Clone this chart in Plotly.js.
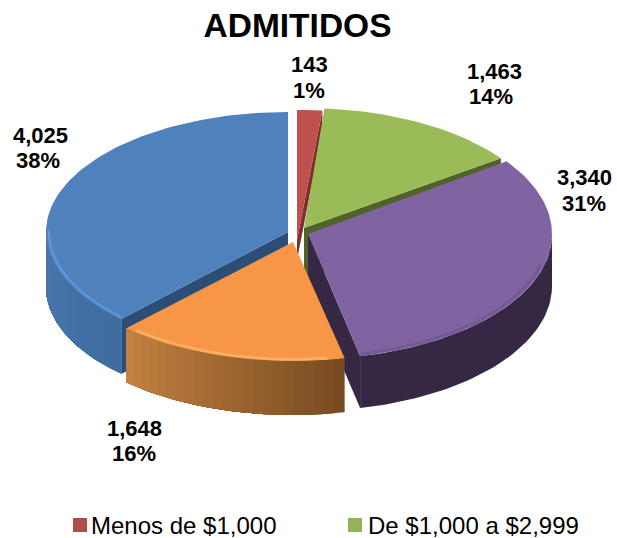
<!DOCTYPE html>
<html><head><meta charset="utf-8">
<script src="https://cdn.plot.ly/plotly-3.0.1.min.js"></script>
<style>html,body{margin:0;padding:0;background:#fff}#c{width:617px;height:538px}</style>
</head><body><div id="c"></div>
<script>
const titleText = "ADMITIDOS";
const values = [143, 1463, 3340, 1648, 4025];
const legendLabels = ["Menos de $1,000", "De $1,000 a $2,999"];

// drawing styles, one entry per slice
const geo = [
  {cx:297,cy:240,rx:300,ry:130,d:20,top:"#c0504d",wallA:"#8a3633",wallB:"#8a3633",radial:"#7d2f2d"},
  {cx:304,cy:228,rx:242,ry:120,d:52,top:"#9bbb59",wallA:"#4f6228",wallB:"#4f6228",radial:"#4f6228"},
  {cx:308,cy:234,rx:244,ry:125,d:52,top:"#8064a2",wallA:"#362845",wallB:"#362845",radial:"#362845",rim:"#65507f"},
  {cx:293,cy:242,rx:242,ry:119,d:54,top:"#f79646",wallA:"#774a20",wallB:"#c58240",radial:"#a5662c",rim:"#ffc27c"},
  {cx:288,cy:232,rx:242,ry:120,d:55,top:"#4f81bd",wallA:"#3f6c9f",wallB:"#4a78ad",radial:"#2c4d75",rim:"#5f9de6"}
];
const labelPos = [
  {x:309,y:64,py:90,px:309},{x:494,y:71,py:96,px:491},{x:584,y:177,py:203,px:584},
  {x:134,y:428,py:453,px:134},{x:40,y:135,py:160,px:38}
];
const legendPos = [{sx:80,tx:90,c:"#b24c4a"},{sx:355,tx:367,c:"#93b35a"}];

const total = values.reduce((a,b)=>a+b,0);
let acc = 0;
const spans = values.map(v=>{const a=acc/total*360; acc+=v; return [a,acc/total*360];});
const rad = d=>d*Math.PI/180;
const px = (g,t,k=1)=>g.cx+g.rx*k*Math.sin(rad(t));
const py = (g,t,k=1)=>g.cy-g.ry*k*Math.cos(rad(t));
const poly = (xs,ys,color)=>({type:"scatter",mode:"lines",x:xs,y:ys,fill:"toself",fillcolor:color,
  line:{color:color,width:0},hoverinfo:"skip",showlegend:false});
const mix = (a,b,f)=>{const h=s=>[1,3,5].map(i=>parseInt(s.substr(i,2),16));const A=h(a),B=h(b);
  return "rgb("+A.map((v,i)=>Math.round(v+(B[i]-v)*f)).join(",")+")";};

function radialWall(i,t){const g=geo[i];const x1=px(g,t),y1=py(g,t);
  return poly([g.cx,x1,x1,g.cx,g.cx],[g.cy,y1,y1+g.d,g.cy+g.d,g.cy],g.radial);}
function wallBand(g,t0,t1,color){const xs=[],ys=[],n=Math.max(2,Math.ceil((t1-t0)/1.5));
  for(let k=0;k<=n;k++){const t=t0+(t1-t0)*k/n;xs.push(px(g,t));ys.push(py(g,t));}
  for(let k=n;k>=0;k--){const t=t0+(t1-t0)*k/n;xs.push(px(g,t));ys.push(py(g,t)+g.d);}
  xs.push(xs[0]);ys.push(ys[0]);return poly(xs,ys,color);}
function outerWall(i){const g=geo[i];const [a0,b0]=spans[i];const out=[];
  const a=Math.max(a0,90),b=Math.min(b0,270);if(b<=a)return out;
  if(g.wallA===g.wallB)return [wallBand(g,a,b,g.wallA)];
  const n=Math.ceil((b-a)/2.5);
  // each band runs to the far end and the next one paints over it, so no seam shows
  for(let k=0;k<n;k++)out.push(wallBand(g,a+(b-a)*k/n,b,mix(g.wallA,g.wallB,(k+.5)/n)));
  return out;}
function topFace(i){const g=geo[i];const [a,b]=spans[i];const xs=[g.cx],ys=[g.cy];
  const n=Math.ceil((b-a)/1.5);
  for(let k=0;k<=n;k++){const t=a+(b-a)*k/n;xs.push(px(g,t));ys.push(py(g,t));}
  xs.push(g.cx);ys.push(g.cy);
  const tr=poly(xs,ys,g.top);tr.hoverinfo="text";
  tr.text=values[i].toLocaleString("en-US");tr.hoveron="fills";return tr;}
function rim(i,from,to,k,w,op){const g=geo[i];const xs=[],ys=[];
  for(let t=from;t<=to;t+=1.5){xs.push(px(g,t,k));ys.push(py(g,t,k));}
  return {type:"scatter",mode:"lines",x:xs,y:ys,line:{color:g.rim,width:w},opacity:op,hoverinfo:"skip",showlegend:false};}

const R=0,G=1,P=2,O=3,B=4;
const traces=[
  radialWall(R,spans[R][1]),topFace(R),
  radialWall(G,spans[G][1]),topFace(G),
  radialWall(B,spans[B][0]),...outerWall(B),topFace(B),rim(B,spans[B][0]+1,spans[B][0]+48,0.988,2.5,0.75),
  radialWall(P,spans[P][1]),
  ...outerWall(O),topFace(O),rim(O,spans[O][0]+4,spans[O][1]-1,0.985,2.5,0.6),
  ...outerWall(P),topFace(P),rim(P,spans[P][0]+50,spans[P][1],0.985,3,0.45),
  {type:"scatter",mode:"markers",x:legendPos.map(l=>l.sx),y:[525,525],
   marker:{symbol:"square",size:14,color:legendPos.map(l=>l.c),line:{width:0}},hoverinfo:"skip",showlegend:false}
];

const fmtPct=v=>Math.round(v/total*100)+"%";
const LF={family:"Liberation Sans, Arial, sans-serif",size:22,color:"#000"};
const annotations=[];
values.forEach((v,i)=>{const p=labelPos[i];
  annotations.push({x:p.x,y:p.y,xref:"x",yref:"y",text:"<b>"+v.toLocaleString("en-US")+"</b>",showarrow:false,font:LF,xanchor:"center",yanchor:"middle"});
  annotations.push({x:p.px,y:p.py,xref:"x",yref:"y",text:"<b>"+fmtPct(v)+"</b>",showarrow:false,font:LF,xanchor:"center",yanchor:"middle"});
});
legendLabels.forEach((t,i)=>annotations.push({x:legendPos[i].tx,y:525,xref:"x",yref:"y",text:t,showarrow:false,
  xanchor:"left",yanchor:"middle",xshift:-1,font:{family:"Liberation Sans, Arial, sans-serif",size:24,color:"#000"}}));

Plotly.newPlot("c",traces,{
  width:617,height:538,margin:{l:0,r:0,t:0,b:0},paper_bgcolor:"#fff",plot_bgcolor:"#fff",showlegend:false,
  title:{text:"<b>"+titleText+"</b>",x:297.5/617,xanchor:"center",y:1-25/538,yanchor:"middle",
    font:{family:"Liberation Sans, Arial, sans-serif",size:33.5,color:"#000"}},
  xaxis:{range:[0,617],visible:false,fixedrange:true},
  yaxis:{range:[538,0],visible:false,fixedrange:true},
  annotations
},{displayModeBar:false});
</script></body></html>
